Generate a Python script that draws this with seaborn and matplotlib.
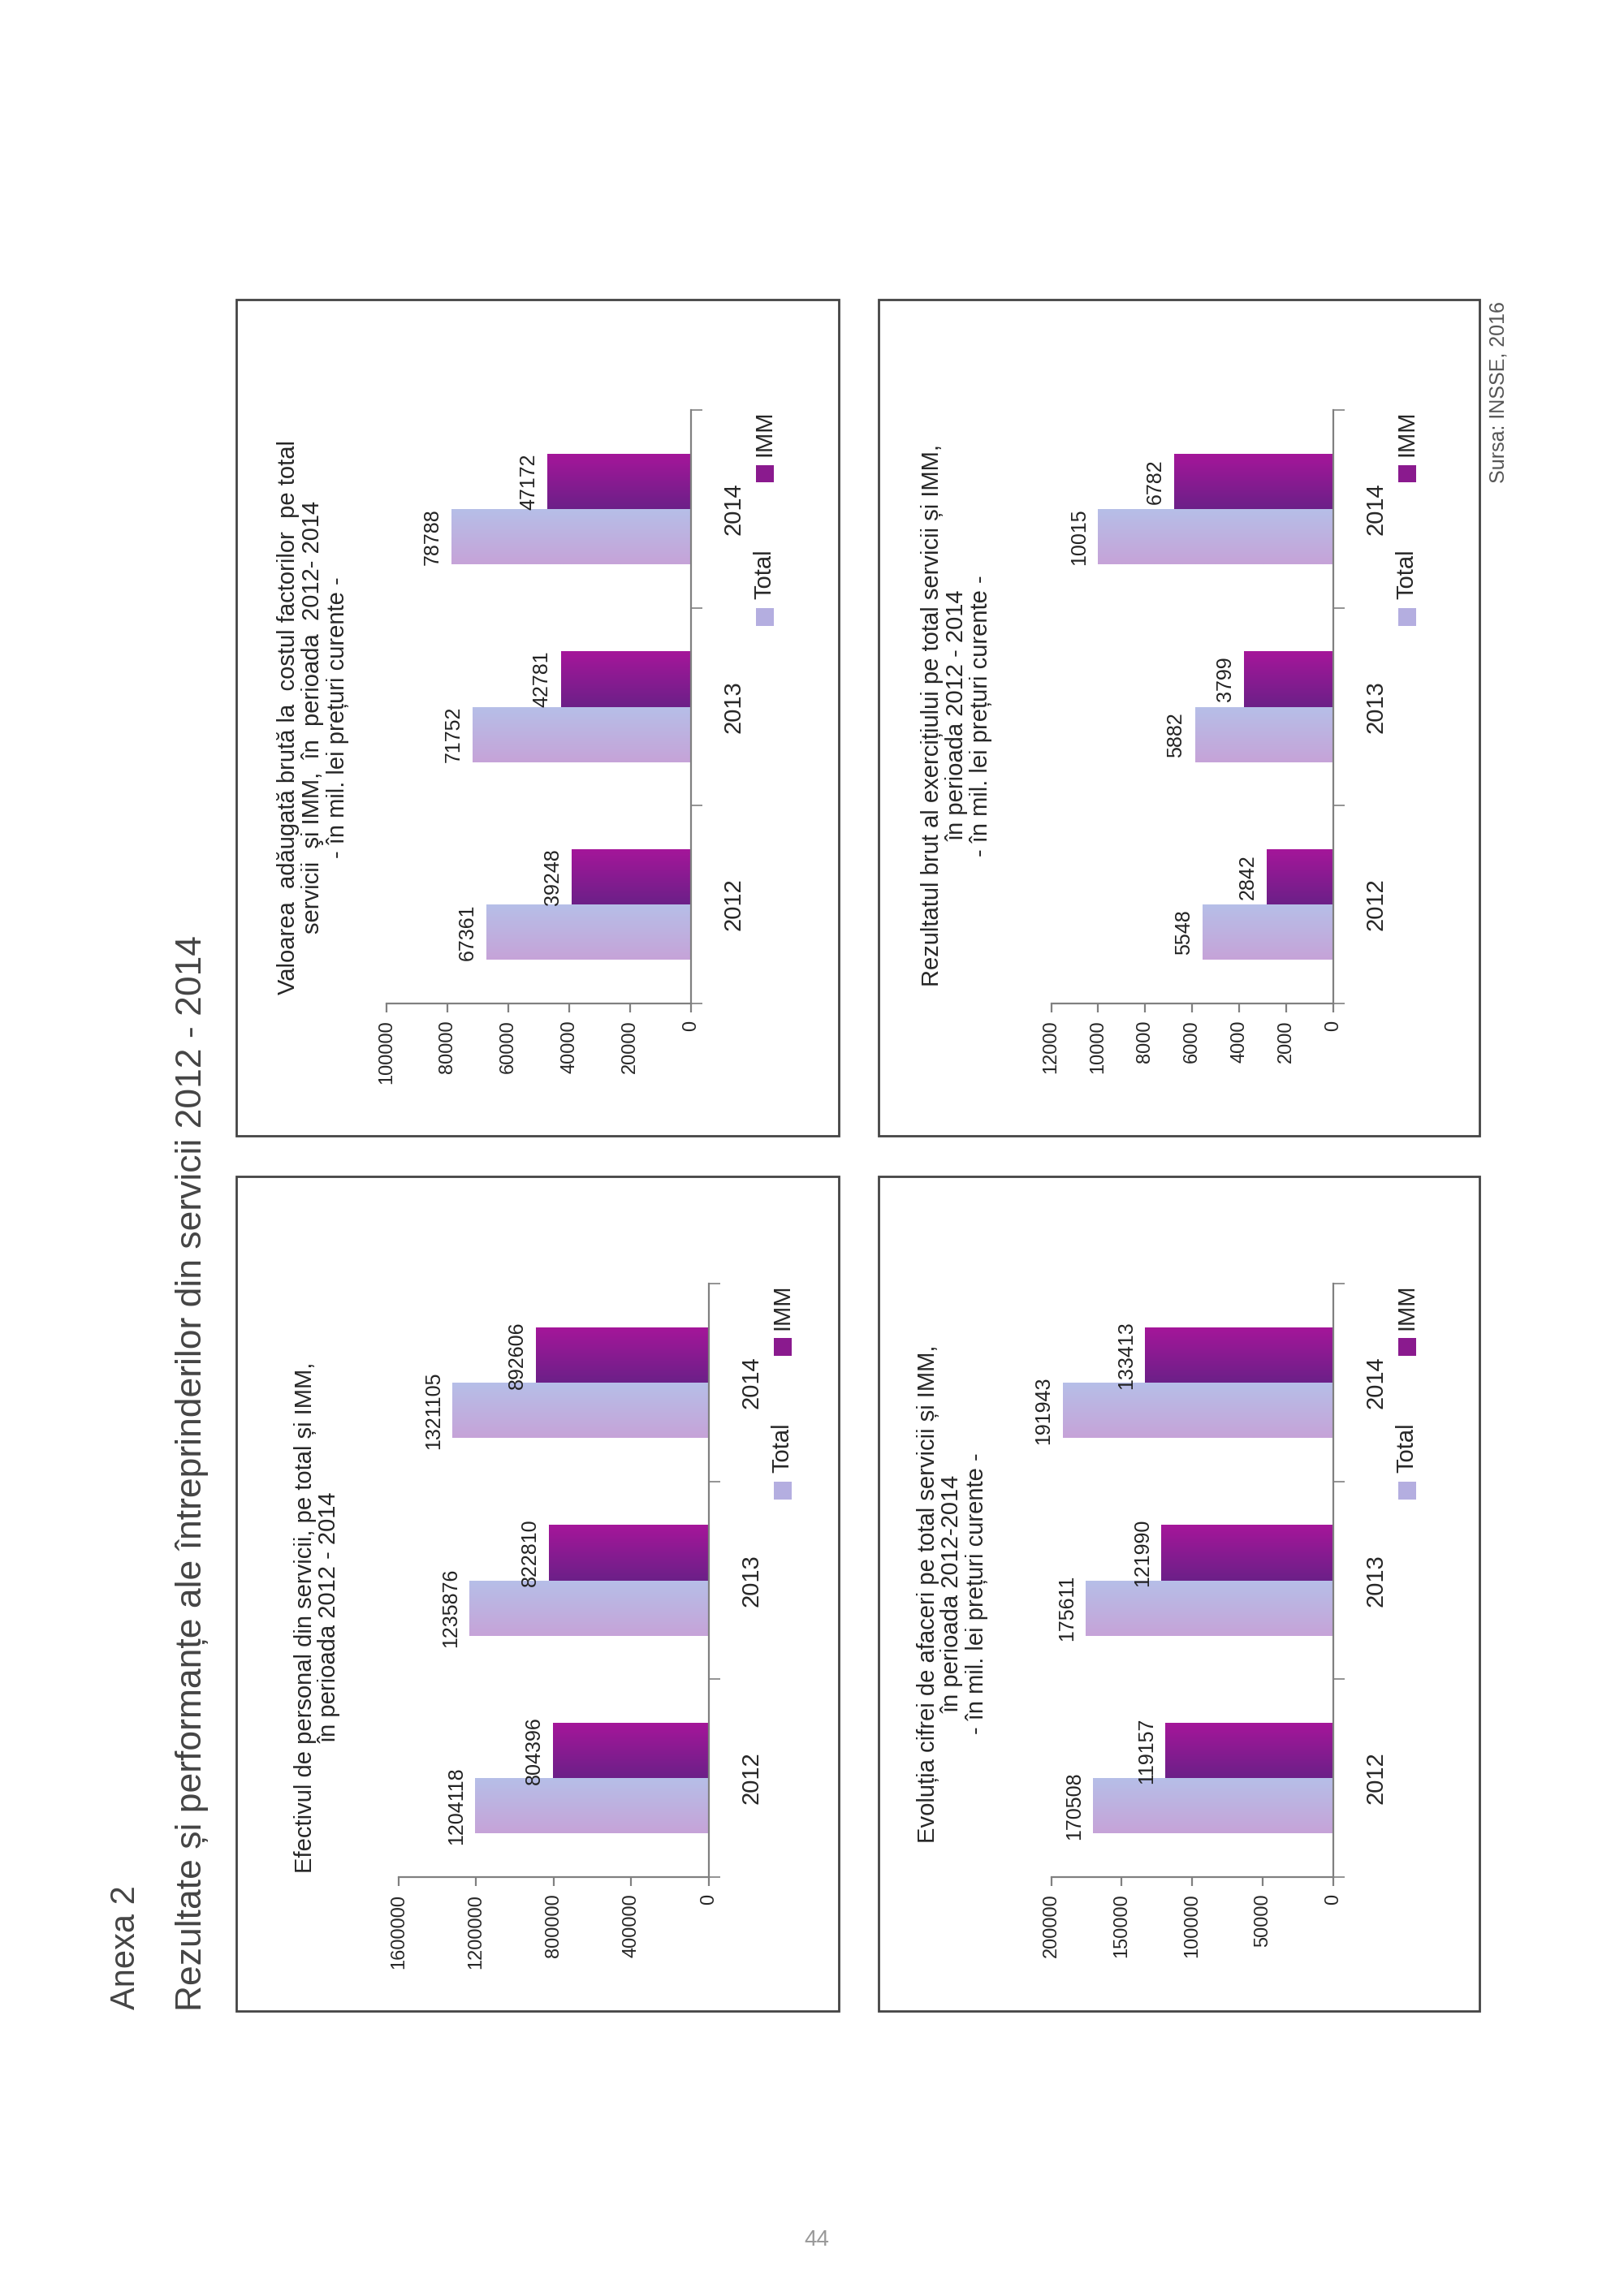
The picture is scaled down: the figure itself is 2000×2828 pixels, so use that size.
import matplotlib
matplotlib.use("Agg")
import matplotlib.pyplot as plt
import numpy as np
import pandas as pd
import seaborn as sns
from matplotlib.patches import Rectangle
from matplotlib.colors import LinearSegmentedColormap

sns.set_style("white")
plt.rcParams['font.family'] = ['Liberation Sans', 'DejaVu Sans']

years = ['2012', '2013', '2014']
personal_total = [1204118, 1235876, 1321105]
personal_imm = [804396, 822810, 892606]
vab_total = [67361, 71752, 78788]
vab_imm = [39248, 42781, 47172]
cifra_total = [170508, 175611, 191943]
cifra_imm = [119157, 121990, 133413]
rez_total = [5548, 5882, 10015]
rez_imm = [2842, 3799, 6782]

W, H = 1100.0, 1556.0  # layout reference units (page in display px)
fig = plt.figure(figsize=(10, 14.14), dpi=200)

def fx(x): return x / W
def fy(y): return 1 - y / H

total_cmap = LinearSegmentedColormap.from_list('t', ['#c6a3d8', '#b6bfe8'])
imm_cmap = LinearSegmentedColormap.from_list('i', ['#6c2088', '#a5169a'])
GRAY = '#808080'

def panel(box, axbox, title, title_xy, total, imm, xmax, step):
    bx0, by0, bx1, by1 = box
    fig.add_artist(Rectangle((fx(bx0), fy(by1)), fx(bx1) - fx(bx0), fy(by0) - fy(by1),
                             transform=fig.transFigure, fill=False, ec='#444444', lw=1.0))
    x0, y0, x1, y1 = axbox
    ax = fig.add_axes([fx(x0), fy(y1), fx(x1) - fx(x0), fy(y0) - fy(y1)])
    df = pd.DataFrame({'year': years * 2,
                       'val': total + imm,
                       'serie': ['Total'] * 3 + ['IMM'] * 3})
    pos = np.arange(3)
    h = 0.28
    for s, off, cm in [('Total', -0.14, total_cmap), ('IMM', 0.14, imm_cmap)]:
        sub = df[df.serie == s]
        for i, v in enumerate(sub['val']):
            r = Rectangle((0, pos[i] + off - h / 2), v, h, fc='none', ec='none')
            ax.add_patch(r)
            grad = np.linspace(0, 1, 64).reshape(-1, 1)
            im = ax.imshow(grad, cmap=cm, aspect='auto', origin='lower',
                           extent=(0, v, pos[i] + off - h / 2, pos[i] + off + h / 2))
            im.set_clip_path(r)
            ax.annotate(str(v), (v, pos[i] + off), xytext=(-4, 0), textcoords='offset points',
                        rotation=90, ha='right', va='center', fontsize=9, color='#222222')
    ax.set_xlim(xmax, 0)
    ax.set_ylim(-0.5, 2.5)
    for sp in ['top', 'left']:
        ax.spines[sp].set_visible(False)
    for sp in ['right', 'bottom']:
        ax.spines[sp].set_color(GRAY)
        ax.spines[sp].set_linewidth(0.8)
    ticks = np.arange(0, xmax + 1, step)
    ax.set_xticks(ticks)
    ax.set_xticklabels([str(int(t)) for t in ticks], rotation=90, fontsize=8.5)
    ax.yaxis.tick_right()
    ax.set_yticks(pos)
    ax.set_yticklabels(years, rotation=90, fontsize=10.5, va='center')
    ax.set_yticks([-0.5, 0.5, 1.5, 2.5], minor=True)
    ax.tick_params(axis='y', which='major', length=0, pad=14)
    ax.tick_params(axis='y', which='minor', length=5, color=GRAY, direction='out')
    ax.tick_params(axis='x', length=4, color=GRAY, direction='out', bottom=True)
    ax.grid(False)
    fig.text(fx(title_xy[0]), fy(title_xy[1]), title, rotation=90, ha='center', va='center',
             fontsize=10.5, multialignment='center', linespacing=1.1)
    lx = x1 + 50
    ly_t, ly_i = y0 + 140, y0 + 43
    fig.add_artist(Rectangle((fx(lx - 6), fy(ly_t + 6)), fx(12), fx(12) * W / H,
                             transform=fig.transFigure, fc='#b4aee0', ec='none'))
    fig.text(fx(lx), fy(ly_t - 12), 'Total', rotation=90, ha='center', va='bottom', fontsize=10.5)
    fig.add_artist(Rectangle((fx(lx - 6), fy(ly_i + 6)), fx(12), fx(12) * W / H,
                             transform=fig.transFigure, fc='#8a1a8e', ec='none'))
    fig.text(fx(lx), fy(ly_i - 12), 'IMM', rotation=90, ha='center', va='bottom', fontsize=10.5)
    return ax

panel((160, 797, 568, 1363), (270, 870, 480, 1272),
      'Efectivul de personal din servicii, pe total și IMM,\nîn perioada 2012 - 2014',
      (215, 1096), personal_total, personal_imm, 1600000, 400000)
panel((160, 203, 568, 770), (262, 278, 468, 680),
      'Valoarea  adăugată brută la  costul factorilor  pe total\nservicii  şi IMM,  în  perioada  2012- 2014\n- în mil. lei prețuri curente -',
      (212, 486), vab_total, vab_imm, 100000, 20000)
panel((595, 797, 1002, 1363), (712, 870, 903, 1272),
      'Evoluția cifrei de afaceri pe total servicii și IMM,\nîn perioada 2012-2014\n- în mil. lei prețuri curente -',
      (645, 1080), cifra_total, cifra_imm, 200000, 50000)
panel((595, 203, 1002, 770), (712, 278, 903, 680),
      'Rezultatul brut al exercițiului pe total servicii și IMM,\nîn perioada 2012 - 2014\n- în mil. lei prețuri curente -',
      (648, 485), rez_total, rez_imm, 12000, 2000)

fig.text(fx(85), fy(1362), 'Anexa 2', rotation=90, ha='center', va='bottom', fontsize=15, color='#444444')
fig.text(fx(130), fy(1363), 'Rezultate și performanțe ale întreprinderilor din servicii 2012 - 2014',
         rotation=90, ha='center', va='bottom', fontsize=16, color='#444444')
fig.text(fx(1015), fy(204), 'Sursa: INSSE, 2016', rotation=90, ha='center', va='top', fontsize=9, color='#555555')
fig.text(fx(553), fy(1518), '44', ha='center', va='center', fontsize=10, color='#999999')

fig.savefig('out.png', dpi=200, facecolor='white')
